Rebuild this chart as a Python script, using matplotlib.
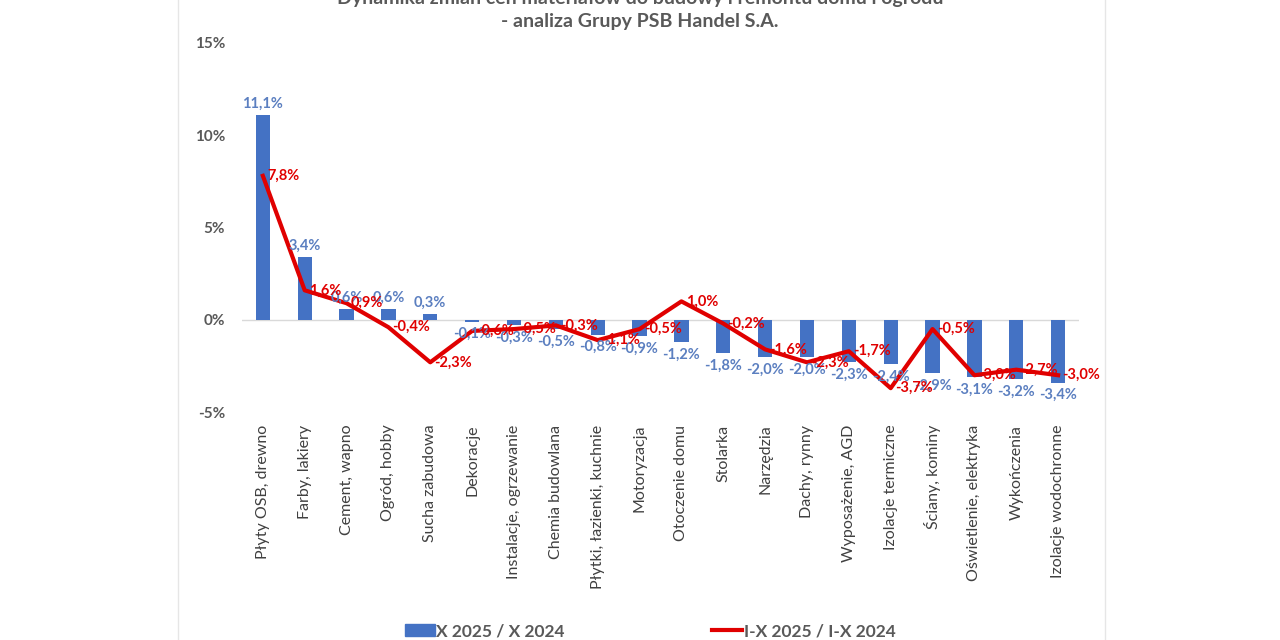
import numpy as np
import matplotlib.pyplot as plt
from matplotlib.patches import Patch
from matplotlib.lines import Line2D

# --- dane ---
kategorie = ["Płyty OSB, drewno", "Farby, lakiery", "Cement, wapno", "Ogród, hobby",
             "Sucha zabudowa", "Dekoracje", "Instalacje, ogrzewanie", "Chemia budowlana",
             "Płytki, łazienki, kuchnie", "Motoryzacja", "Otoczenie domu", "Stolarka",
             "Narzędzia", "Dachy, rynny", "Wyposażenie, AGD", "Izolacje termiczne",
             "Ściany, kominy", "Oświetlenie, elektryka", "Wykończenia", "Izolacje wodochronne"]
x_2025 = [11.1, 3.4, 0.6, 0.6, 0.3, -0.1, -0.3, -0.5, -0.8, -0.9, -1.2, -1.8,
          -2.0, -2.0, -2.3, -2.4, -2.9, -3.1, -3.2, -3.4]
ix_2025 = [7.8, 1.6, 0.9, -0.4, -2.3, -0.6, -0.5, -0.3, -1.1, -0.5, 1.0, -0.2,
           -1.6, -2.3, -1.7, -3.7, -0.5, -3.0, -2.7, -3.0]
yticks = [-5, 0, 5, 10, 15]

niebieski = "#4472C4"
czerwony = "#E00000"
szary = "#595959"
font = "Lato"

def pct(v):
    return f"{v:.1f}%".replace(".", ",")

fig = plt.figure(figsize=(12.8, 6.4), dpi=100)
ax = fig.add_axes([0.189, 0.356, 0.654, 0.577])

x = np.arange(len(kategorie))
ax.bar(x, x_2025, width=0.34, color=niebieski, zorder=2)
ax.plot(x, ix_2025, color=czerwony, linewidth=3, zorder=3)

for xi, v in zip(x, x_2025):
    if v >= 0:
        ax.annotate(pct(v), (xi, v), xytext=(0, 3), textcoords="offset points",
                    ha="center", va="bottom", color="#5B7FC0", fontsize=10.5,
                    fontweight="bold", family=font, zorder=4)
    else:
        ax.annotate(pct(v), (xi, v), xytext=(0, -4), textcoords="offset points",
                    ha="center", va="top", color="#5B7FC0", fontsize=10.5,
                    fontweight="bold", family=font, zorder=4)

for xi, v in zip(x, ix_2025):
    ax.annotate(pct(v), (xi, v), xytext=(3, 0), textcoords="offset points",
                ha="left", va="center", color=czerwony, fontsize=10.5,
                fontweight="bold", family=font, zorder=5)

ax.axhline(0, color="#D9D9D9", linewidth=1, zorder=1)
ax.set_xlim(-0.5, len(kategorie) - 0.5)
ax.set_ylim(-5, 15)
ax.set_yticks(yticks)
ax.set_yticklabels([f"{t}%" for t in yticks], fontsize=11, fontweight="bold",
                   color=szary, family=font)
ax.set_xticks(x)
ax.set_xticklabels(kategorie, rotation=90, fontsize=11.5, color="#404040", family=font)
ax.tick_params(axis="both", length=0)
ax.tick_params(axis="x", pad=9)
ax.tick_params(axis="y", pad=12)
for s in ax.spines.values():
    s.set_visible(False)

fig.text(0.5, 1.003, "Dynamika zmian cen materiałów do budowy i remontu domu i ogrodu",
         ha="center", va="center", fontsize=14, fontweight="bold", color=szary, family=font)
fig.text(0.5, 0.966, "- analiza Grupy PSB Handel S.A.", ha="center", va="center",
         fontsize=14, fontweight="bold", color=szary, family=font)

# ramka wykresu
fig.add_artist(Line2D([0.139, 0.139], [0, 1], color="#E6E6E6", linewidth=1))
fig.add_artist(Line2D([0.863, 0.863], [0, 1], color="#E6E6E6", linewidth=1))

uchwyty = [Patch(color=niebieski, label="X 2025 / X 2024"),
           Line2D([0], [0], color=czerwony, linewidth=3, label="I-X 2025 / I-X 2024")]
fig.legend(handles=uchwyty, loc="center", bbox_to_anchor=(0.508, 0.014), ncol=2,
           frameon=False, columnspacing=8.5, handlelength=1.7, handletextpad=0.1,
           prop={"family": font, "size": 12.5, "weight": "bold"}, labelcolor=szary)

plt.savefig("out.png", dpi=100)
